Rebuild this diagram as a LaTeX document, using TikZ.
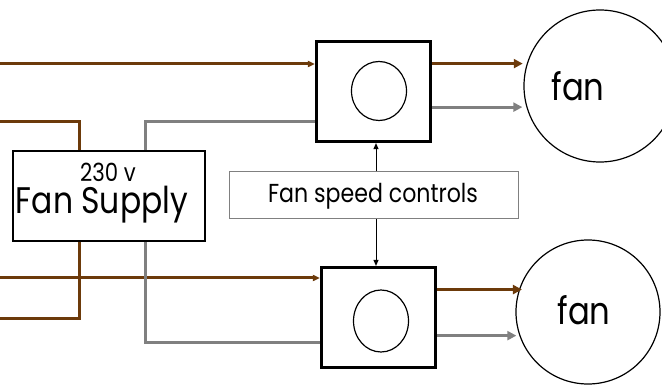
\documentclass[tikz,border=0pt]{standalone}
\usepackage{fontspec}
\setmainfont[FakeStretch=0.85]{Poppins}
\usetikzlibrary{arrows.meta,shapes.geometric}
\definecolor{wirebrown}{RGB}{108,58,10}
\definecolor{wiregray}{RGB}{128,128,128}
\begin{document}
\begin{tikzpicture}[x=1pt,y=-1pt,
  brownwire/.style={draw=wirebrown,line width=3pt},
  graywire/.style={draw=wiregray,line width=3pt},
  wiretip/.style={-{Triangle[length=9pt,width=9pt]}},
  thintip/.style={-{Triangle[length=7pt,width=6pt]}},
  ctrlbox/.style={draw=black,line width=3.2pt,minimum width=114pt,minimum height=100pt,inner sep=0pt},
  knob/.style={draw=black,line width=1.2pt,ellipse,inner sep=0pt},
  fancircle/.style={draw=black,line width=1.2pt,circle,inner sep=0pt},
  supplybox/.style={draw=black,line width=2.5pt,minimum width=192pt,minimum height=90pt,inner sep=0pt},
  speedbox/.style={draw=wiregray,line width=1pt,minimum width=289pt,minimum height=47pt,inner sep=0pt},
  ctrlwire/.style={draw=black,line width=1pt,-{Triangle[length=6pt,width=5pt]}}
]
\useasboundingbox (0,0) rectangle (662,390);
% control boxes
\node[ctrlbox] (c1) at (373.5,91.5) {};
\node[ctrlbox] (c2) at (378.5,317.5) {};
\node[knob,minimum width=55pt,minimum height=59pt] (k1) at (379,91) {};
\node[knob,minimum width=55pt,minimum height=62pt] (k2) at (381,321) {};
% fans
\node[fancircle,minimum size=152pt] (f1) at (600,86) {};
\node[font=\fontsize{38}{40}\selectfont] (f1t) at (578,86) {fan};
\node[fancircle,minimum size=144pt] (f2) at (588,312) {};
\node[font=\fontsize{38}{40}\selectfont] (f2t) at (584,310) {fan};
% supply
\node[supplybox] (s) at (109,196) {};
\node[font=\fontsize{25}{26}\selectfont,anchor=base,inner sep=0pt] (v) at (108,182) {230 v};
\node[font=\fontsize{37}{38}\selectfont,anchor=base,inner sep=0pt] (fs) at (102,214) {Fan Supply};
% speed controls
\node[speedbox] (sc) at (373.5,195.5) {};
\node[font=\fontsize{26}{27}\selectfont,anchor=base] (sct) at (373,203) {Fan speed controls};
% coordinates
\coordinate (inA) at (0,64);
\coordinate (inB) at (0,122);
\coordinate (inC) at (0,278);
\coordinate (inD) at (0,319);
\coordinate (b1) at (79,122);
\coordinate (b2) at (79,319);
\coordinate (g1) at (145,122);
\coordinate (g2) at (145,343);
% input wires
\draw[brownwire,thintip] (inA) -- (c1.west |- inA);
\draw[brownwire] (inB) -- (b1) -- (b1 |- s.north);
\draw[graywire] (g1 |- s.north) -- (g1) -- (c1.west |- g1);
\draw[brownwire] (b2 |- s.south) -- (b2) -- (inD);
\draw[brownwire,thintip] (inC) -- (c2.west |- inC);
\draw[graywire] (g2 |- s.south) -- (g2) -- (c2.west |- g2);
% output wires
\draw[brownwire,line width=3.5pt,wiretip,shorten >=4pt] (c1.east |- f1.163) -- (f1.163);
\draw[graywire,wiretip,shorten >=4pt] (c1.east |- f1.196) -- (f1.196);
\draw[brownwire,line width=3.5pt,wiretip,shorten >=-3pt] (c2.east |- f2.162) -- (f2.162);
\draw[graywire,wiretip,shorten >=3pt] (c2.east |- f2.199.5) -- (f2.199.5);
% control arrows
\draw[ctrlwire] (sc.north -| 376,0) -- (c1.south -| 376,0);
\draw[ctrlwire] (sc.south -| 376,0) -- (c2.north -| 376,0);
\end{tikzpicture}
\end{document}
